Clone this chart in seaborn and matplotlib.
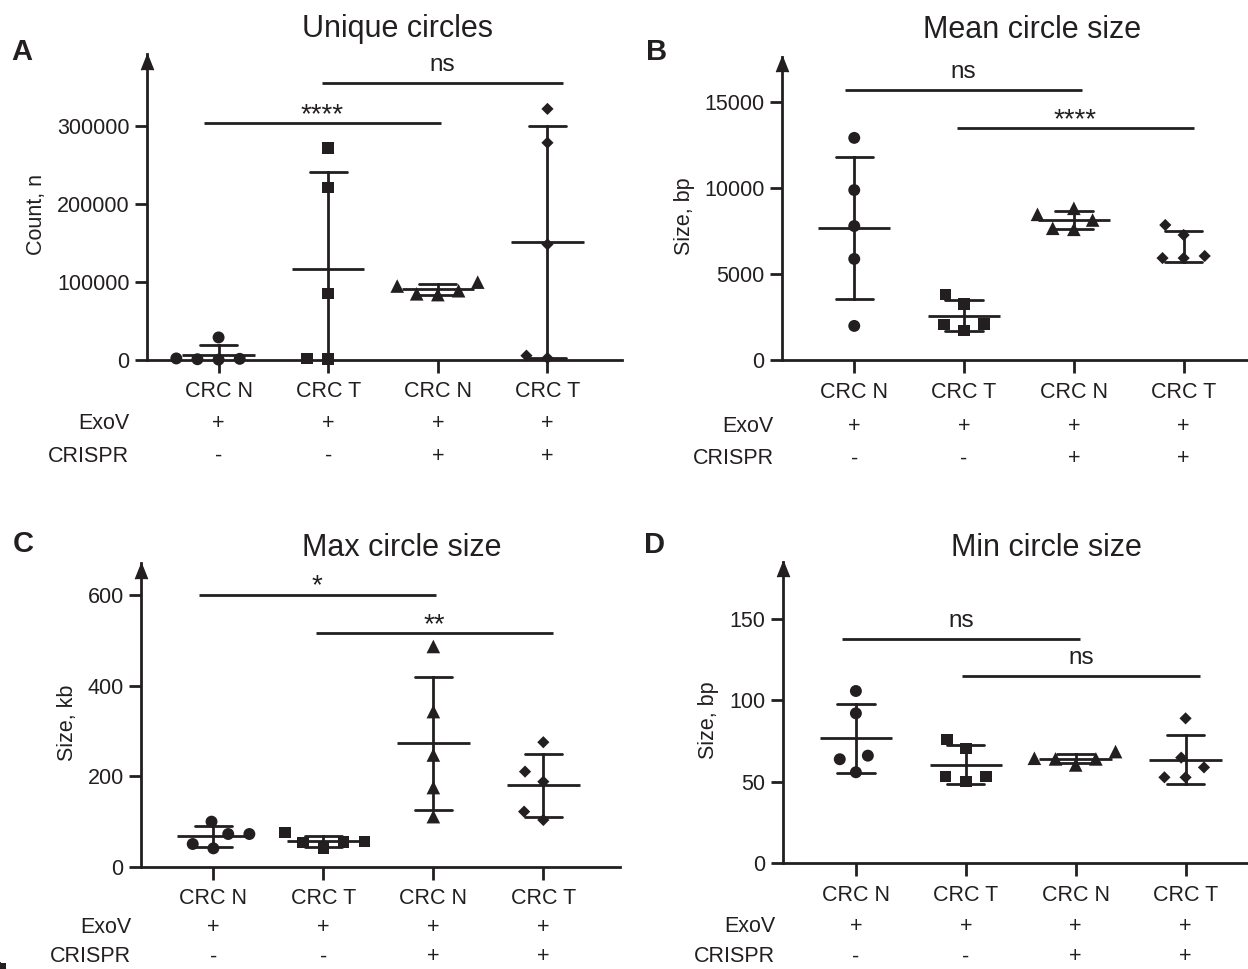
import numpy as np
import pandas as pd
import matplotlib
matplotlib.use("Agg")
import matplotlib.pyplot as plt
import matplotlib.transforms as mtransforms
import seaborn as sns

# ---------------- data ----------------
groups = ["N1", "T1", "N2", "T2"]
group_labels = ["CRC N", "CRC T", "CRC N", "CRC T"]
exov_row = ["+", "+", "+", "+"]
crispr_row = ["-", "-", "+", "+"]

titles = ["Unique circles", "Mean circle size", "Max circle size", "Min circle size"]
ylabels = ["Count, n", "Size, bp", "Size, kb", "Size, bp"]
panel_letters = ["A", "B", "C", "D"]

# Panel A: unique circles (count)
unique_n1 = [29000, 2000, 1000, 1500, 500]
unique_t1 = [272000, 221600, 85700, 1000, 2000]
unique_n2 = [100000, 84000, 95000, 85000, 89000]
unique_t2 = [322500, 279000, 148500, 2600, 5600]

# Panel B: mean circle size (bp)
mean_n1 = [12900, 9870, 7780, 5870, 1980]
mean_t1 = [3800, 3250, 1700, 2050, 2100]
mean_n2 = [8810, 8460, 8130, 7590, 7650]
mean_t2 = [7840, 7260, 5920, 6040, 5920]

# Panel C: max circle size (kb)
max_n1 = [99.6, 72.3, 72.3, 40.6, 50.2]
max_t1 = [76, 41, 55, 56, 53]
max_n2 = [487, 343, 247, 175, 110.7]
max_t2 = [275.3, 210.3, 188, 121.8, 103.3]

# Panel D: min circle size (bp)
min_n1 = [105.8, 92.1, 66.1, 63.9, 55.9]
min_t1 = [76.1, 70.6, 50.1, 53.2, 53.2]
min_n2 = [64.1, 68.6, 64.1, 64.5, 60.4]
min_t2 = [89, 64.9, 58.9, 52.8, 52.8]

panel_values = [
    [unique_n1, unique_t1, unique_n2, unique_t2],
    [mean_n1, mean_t1, mean_n2, mean_t2],
    [max_n1, max_t1, max_n2, max_t2],
    [min_n1, min_t1, min_n2, min_t2],
]

yticks = [
    [0, 100000, 200000, 300000],
    [0, 5000, 10000, 15000],
    [0, 200, 400, 600],
    [0, 50, 100, 150],
]
ytops = [393000, 17615, 671.6, 185.2]

# significance comparisons: (x start, x end, y, label)
sig_A = [(-0.133, 2.026, 304300, "****"), (0.943, 3.143, 355800, "ns")]
sig_B = [(-0.085, 2.074, 15680, "ns"), (0.933, 3.091, 13490, "****")]
sig_C = [(-0.133, 2.024, 601.5, "*"), (0.935, 3.090, 516.6, "**")]
sig_D = [(-0.124, 2.040, 137.7, "ns"), (0.970, 3.135, 115.0, "ns")]
panel_sigs = [sig_A, sig_B, sig_C, sig_D]

# groups whose mean line is not drawn in the original figure
hidden_means = [[], ["T2"], [], []]

# ---------------- style / layout ----------------
W, H = 1248, 969
INK = "#231f20"
sns.set_style("ticks")
plt.rcParams["font.family"] = ["Liberation Sans", "DejaVu Sans"]
plt.rcParams["text.color"] = INK
plt.rcParams["axes.labelcolor"] = INK

markers = ["o", "s", "^", "D"]
marker_sizes = [8.6, 8.3, 9.8, 6.2]
SWARM_SPACING = 14.5  # pt, effective diameter used for the swarm layout

# axes rectangles in pixels: left, right, top, bottom (from top of image)
axes_px = [(147, 622, 54, 360), (782, 1248, 56.7, 360),
           (141, 620, 563, 866.7), (782.6, 1248, 561.7, 863.3)]
xlims = [(-0.653, 3.68), (-0.658, 3.586), (-0.658, 3.697), (-0.667, 3.568)]
title_pos = [(397, 37.5), (1032, 37.5), (402, 555.7), (1046, 555.7)]
letter_pos = [(11, 60), (646, 60), (12.6, 551.7), (644, 553.3)]
row_label_dx = [-18, -8.5, -10, -7.6]
cat_baseline = [37.0, 37.7, 37.7, 37.7]
exov_baseline = [69.4, 71.7, 66.0, 69.0]
crispr_baseline = [101.7, 104.4, 95.5, 99.0]

FS = 15.5
LW = 2.0

fig = plt.figure(figsize=(W / 100, H / 100), dpi=100)

for k in range(4):
    l, r, t, b = axes_px[k]
    ax = fig.add_axes([l / W, 1 - b / H, (r - l) / W, (b - t) / H])
    vals = panel_values[k]
    df = pd.DataFrame({
        "group": np.repeat(groups, [len(v) for v in vals]),
        "value": np.concatenate(vals),
    })

    # individual points
    for g, m, ms in zip(groups, markers, marker_sizes):
        sub = df[df["group"] == g]
        sns.swarmplot(data=sub, x="group", y="value", order=groups, marker=m,
                      size=ms, color=INK, edgecolor="none",
                      linewidth=SWARM_SPACING - ms, ax=ax, zorder=4,
                      clip_on=False, warn_thresh=1)

    # SD error bars
    sns.pointplot(data=df, x="group", y="value", order=groups, errorbar="sd",
                  capsize=0.34, linestyle="none", marker="", color=INK,
                  err_kws={"linewidth": LW}, ax=ax, zorder=3)
    # mean lines
    means = df.groupby("group")["value"].mean()
    for i, g in enumerate(groups):
        if g in hidden_means[k]:
            continue
        ax.hlines(means[g], i - 0.33, i + 0.33, color=INK, lw=LW, zorder=3)

    ax.set_xlim(*xlims[k])
    ax.set_ylim(0, ytops[k])
    ax.set_yticks(yticks[k])
    ax.set_yticklabels([str(v) for v in yticks[k]])
    ax.set_xticks(range(len(groups)))
    ax.set_xticklabels([""] * len(groups))
    ax.set_xlabel("")
    ax.set_ylabel(ylabels[k], fontsize=FS, labelpad=7)
    ax.yaxis.label.set_y(0.475)
    for s in ["top", "right"]:
        ax.spines[s].set_visible(False)
    for s in ["left", "bottom"]:
        ax.spines[s].set_linewidth(LW)
        ax.spines[s].set_color(INK)
    ax.tick_params(axis="both", length=9, width=LW, color=INK,
                   labelsize=FS, labelcolor=INK, direction="out")
    ax.tick_params(axis="y", pad=3.5)
    ax.patch.set_alpha(0)

    # arrow head on top of y axis
    arrow_tr = mtransforms.offset_copy(ax.transAxes, fig=fig, y=-5.5, units="points")
    ax.plot([0], [1], marker=[(-0.8, -1), (0, 1), (0.8, -1)], markersize=11,
            color=INK, transform=arrow_tr, clip_on=False, zorder=6)

    # category labels and condition rows
    blend = ("data", "axes fraction")
    for i in range(len(groups)):
        ax.annotate(group_labels[i], xy=(i, 0), xycoords=blend,
                    xytext=(0, -cat_baseline[k]), textcoords="offset pixels",
                    ha="center", va="baseline", fontsize=FS, color=INK)
        ax.annotate(exov_row[i], xy=(i, 0), xycoords=blend,
                    xytext=(0, -exov_baseline[k]), textcoords="offset pixels",
                    ha="center", va="baseline", fontsize=FS, color=INK)
        ax.annotate(crispr_row[i], xy=(i, 0), xycoords=blend,
                    xytext=(0, -crispr_baseline[k]), textcoords="offset pixels",
                    ha="center", va="baseline", fontsize=FS, color=INK)
    ax.annotate("ExoV", xy=(0, 0), xycoords="axes fraction",
                xytext=(row_label_dx[k], -exov_baseline[k]), textcoords="offset pixels",
                ha="right", va="baseline", fontsize=FS, color=INK)
    ax.annotate("CRISPR", xy=(0, 0), xycoords="axes fraction",
                xytext=(row_label_dx[k], -crispr_baseline[k]), textcoords="offset pixels",
                ha="right", va="baseline", fontsize=FS, color=INK)

    # significance lines
    for x0, x1, y, lab in panel_sigs[k]:
        ax.plot([x0, x1], [y, y], color=INK, lw=LW, solid_capstyle="butt",
                clip_on=False, zorder=3)
        if "*" in lab:
            ax.annotate(lab, xy=((x0 + x1) / 2, y), xytext=(0, 1.0),
                        textcoords="offset pixels", ha="center", va="baseline",
                        fontsize=20, color=INK)
        else:
            ax.annotate(lab, xy=((x0 + x1) / 2, y), xytext=(0, 12),
                        textcoords="offset pixels", ha="center", va="baseline",
                        fontsize=17.5, color=INK)

    # title and panel letter
    tx, ty = title_pos[k]
    fig.text(tx / W, 1 - ty / H, titles[k], ha="center", va="baseline",
             fontsize=22, color=INK)
    lx, ly = letter_pos[k]
    fig.text(lx / W, 1 - ly / H, panel_letters[k], ha="left", va="baseline",
             fontsize=21, fontweight="bold", color=INK)

fig.savefig("out.png", dpi=100, facecolor="white")
